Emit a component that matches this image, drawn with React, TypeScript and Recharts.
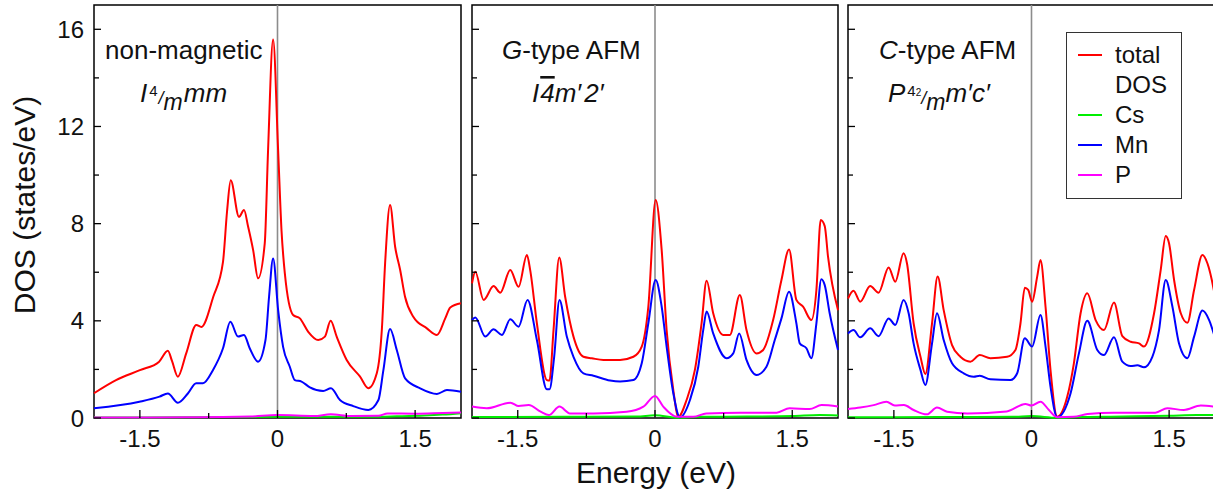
import React from 'react';
import { LineChart, Line, XAxis, YAxis, ReferenceLine, ReferenceArea, Legend } from 'recharts';

const FONT = '"Liberation Sans", Arial, Helvetica, sans-serif';

// ---------- axis ticks ----------
const energyTicks = [-1.5, -0.75, 0, 0.75, 1.5];
const dosTicks = [0, 2, 4, 6, 8, 10, 12, 14, 16];
const energyDomain = [-2, 2];
const dosDomain = [0, 17];

// ---------- series ----------
const seriesNames = ['total DOS', 'Cs', 'Mn', 'P'];
const seriesColors = ['#ff0000', '#00ee00', '#0000ff', '#ff00ff'];

// Panel 1: non-magnetic  [energy (eV), DOS (states/eV)]
const nmTotal = [[-2, 1.02], [-1.76, 1.56], [-1.5, 1.97], [-1.29, 2.32], [-1.195, 2.77], [-1.15, 2.35], [-1.086, 1.7], [-0.995, 2.66], [-0.885, 3.83], [-0.83, 3.75], [-0.7, 4.99], [-0.594, 6.43], [-0.55, 8.5], [-0.51, 9.79], [-0.42, 8.28], [-0.365, 8.56], [-0.32, 7.87], [-0.265, 6.9], [-0.212, 5.75], [-0.139, 7.19], [-0.103, 11.0], [-0.048, 15.58], [0.007, 11.0], [0.044, 7.7], [0.08, 5.95], [0.17, 4.24], [0.244, 4.1], [0.335, 3.55], [0.444, 3.21], [0.517, 3.35], [0.579, 4.0], [0.645, 3.35], [0.754, 2.39], [0.9, 1.7], [0.99, 1.22], [1.082, 1.84], [1.137, 3.62], [1.173, 6.38], [1.227, 8.77], [1.282, 7.05], [1.337, 6.09], [1.39, 4.99], [1.48, 4.17], [1.628, 3.69], [1.738, 3.42], [1.828, 4.1], [1.883, 4.55], [2, 4.72]];
const nmCs = [[-2, 0.02], [-1, 0.03], [0, 0.05], [1, 0.05], [1.3, 0.07], [1.6, 0.1], [1.8, 0.14], [2, 0.2]];
const nmMn = [[-2, 0.4], [-1.505, 0.67], [-1.286, 0.88], [-1.195, 1.01], [-1.086, 0.63], [-0.977, 1.01], [-0.886, 1.43], [-0.813, 1.43], [-0.704, 1.97], [-0.594, 2.87], [-0.514, 3.96], [-0.43, 3.35], [-0.365, 3.42], [-0.303, 2.87], [-0.212, 2.32], [-0.131, 3.21], [-0.092, 4.99], [-0.048, 6.57], [0.007, 4.44], [0.061, 2.93], [0.134, 2.11], [0.189, 1.56], [0.262, 1.5], [0.353, 1.26], [0.498, 1.11], [0.583, 1.22], [0.681, 0.74], [0.826, 0.49], [0.99, 0.33], [1.1, 0.74], [1.154, 1.97], [1.227, 3.66], [1.3, 2.8], [1.391, 1.63], [1.555, 1.22], [1.738, 0.99], [1.847, 1.15], [2, 1.08]];
const nmP = [[-2, 0.02], [-1, 0.03], [-0.3, 0.06], [0, 0.12], [0.4, 0.08], [0.58, 0.15], [0.8, 0.08], [1.1, 0.09], [1.2, 0.19], [1.5, 0.18], [1.8, 0.21], [2, 0.23]];

// Panel 2: G-type AFM
const gTotal = [[-2, 5.54], [-1.964, 6.02], [-1.873, 4.86], [-1.764, 5.43], [-1.691, 5.16], [-1.582, 6.09], [-1.491, 5.4], [-1.4, 6.71], [-1.364, 6.09], [-1.291, 3.9], [-1.182, 1.56], [-1.153, 1.54], [-1.109, 3.62], [-1.047, 6.61], [-0.982, 4.99], [-0.891, 3.35], [-0.782, 2.52], [-0.691, 2.46], [-0.564, 2.39], [-0.382, 2.39], [-0.236, 2.52], [-0.145, 2.94], [-0.073, 4.58], [0.007, 8.97], [0.073, 6.91], [0.127, 3.62], [0.2, 1.15], [0.255, 0.05], [0.345, 0.74], [0.436, 1.98], [0.509, 3.9], [0.564, 5.65], [0.636, 4.31], [0.745, 3.42], [0.818, 3.42], [0.927, 5.06], [1.0, 3.62], [1.109, 2.66], [1.182, 2.8], [1.291, 4.03], [1.382, 5.68], [1.465, 6.94], [1.545, 4.86], [1.618, 4.58], [1.709, 4.03], [1.764, 5.27], [1.811, 8.15], [1.855, 7.9], [1.891, 6.64], [2, 4.44]];
const gCs = [[-2, 0.04], [-1, 0.05], [-0.2, 0.06], [0, 0.11], [0.25, 0.01], [0.5, 0.05], [1, 0.06], [1.5, 0.08], [1.8, 0.12], [2, 0.1]];
const gMn = [[-2, 4.03], [-1.964, 4.14], [-1.855, 3.35], [-1.764, 3.65], [-1.673, 3.42], [-1.582, 4.06], [-1.491, 3.76], [-1.393, 4.86], [-1.291, 3.21], [-1.182, 1.18], [-1.153, 1.18], [-1.102, 2.52], [-1.044, 4.86], [-0.964, 3.35], [-0.891, 2.52], [-0.782, 1.84], [-0.673, 1.74], [-0.491, 1.54], [-0.382, 1.5], [-0.236, 1.56], [-0.145, 2.25], [-0.073, 3.9], [0.007, 5.68], [0.073, 4.58], [0.127, 2.94], [0.2, 1.02], [0.273, 0.03], [0.382, 0.74], [0.473, 2.11], [0.527, 3.62], [0.564, 4.38], [0.636, 3.48], [0.782, 2.46], [0.855, 2.66], [0.92, 3.48], [1.0, 2.39], [1.109, 1.77], [1.218, 2.11], [1.309, 3.21], [1.382, 4.1], [1.465, 5.2], [1.545, 3.9], [1.582, 3.07], [1.655, 2.87], [1.709, 2.46], [1.764, 3.9], [1.818, 5.71], [1.855, 5.47], [1.909, 4.31], [2, 2.8]];
const gP = [[-2, 0.47], [-1.84, 0.4], [-1.58, 0.63], [-1.49, 0.49], [-1.38, 0.53], [-1.25, 0.26], [-1.16, 0.12], [-1.044, 0.47], [-0.93, 0.19], [-0.67, 0.19], [-0.31, 0.26], [-0.127, 0.47], [0, 0.91], [0.09, 0.47], [0.24, 0.05], [0.42, 0.05], [0.56, 0.19], [0.93, 0.22], [1.33, 0.22], [1.47, 0.4], [1.69, 0.37], [1.82, 0.53], [2, 0.47]];

// Panel 3: C-type AFM
const cTotal = [[-2, 4.92], [-1.94, 5.24], [-1.867, 4.79], [-1.758, 5.43], [-1.667, 5.16], [-1.557, 6.2], [-1.485, 5.61], [-1.394, 6.78], [-1.357, 6.36], [-1.285, 3.9], [-1.21, 2.52], [-1.157, 1.81], [-1.084, 3.9], [-1.023, 5.82], [-0.957, 4.44], [-0.866, 3.0], [-0.775, 2.52], [-0.666, 2.32], [-0.564, 2.59], [-0.448, 2.46], [-0.266, 2.52], [-0.175, 2.8], [-0.12, 3.9], [-0.073, 5.36], [-0.036, 5.27], [0.007, 4.79], [0.062, 5.82], [0.098, 6.5], [0.153, 4.58], [0.207, 1.98], [0.28, 0.05], [0.39, 0.88], [0.462, 2.25], [0.535, 4.31], [0.608, 5.13], [0.699, 4.03], [0.79, 3.62], [0.899, 4.75], [0.99, 3.37], [1.081, 3.14], [1.172, 3.07], [1.226, 2.94], [1.336, 4.31], [1.408, 6.09], [1.463, 7.49], [1.499, 7.19], [1.554, 5.68], [1.627, 4.31], [1.699, 3.92], [1.772, 5.27], [1.863, 6.71], [1.918, 6.36], [1.987, 5.27], [2, 5.0]];
const cCs = [[-2, 0.03], [-1, 0.04], [-0.2, 0.05], [0, 0.08], [0.28, 0.01], [0.5, 0.04], [1, 0.06], [1.5, 0.09], [1.8, 0.12], [2, 0.12]];
const cMn = [[-2, 3.48], [-1.94, 3.62], [-1.867, 3.32], [-1.758, 3.69], [-1.667, 3.37], [-1.557, 4.1], [-1.485, 3.83], [-1.394, 4.86], [-1.339, 4.31], [-1.285, 3.07], [-1.21, 1.98], [-1.157, 1.36], [-1.084, 3.07], [-1.03, 4.31], [-0.957, 3.21], [-0.866, 2.25], [-0.739, 1.84], [-0.63, 1.7], [-0.564, 1.74], [-0.448, 1.59], [-0.229, 1.56], [-0.156, 1.84], [-0.073, 3.28], [0.007, 2.94], [0.098, 4.24], [0.153, 2.94], [0.207, 1.29], [0.28, 0.03], [0.426, 1.02], [0.517, 2.66], [0.608, 4.0], [0.717, 2.8], [0.79, 2.59], [0.899, 3.32], [0.99, 2.32], [1.081, 2.14], [1.154, 2.17], [1.226, 2.09], [1.317, 2.52], [1.39, 3.62], [1.463, 5.68], [1.536, 4.58], [1.608, 3.07], [1.699, 2.46], [1.772, 3.35], [1.863, 4.42], [1.936, 4.03], [2, 3.3]];
const cP = [[-2, 0.37], [-1.867, 0.43], [-1.72, 0.53], [-1.58, 0.67], [-1.49, 0.51], [-1.39, 0.53], [-1.285, 0.33], [-1.14, 0.15], [-1.03, 0.43], [-0.92, 0.26], [-0.7, 0.19], [-0.27, 0.27], [-0.066, 0.58], [0.0, 0.51], [0.098, 0.67], [0.19, 0.33], [0.28, 0.03], [0.46, 0.05], [0.61, 0.16], [0.9, 0.22], [1.35, 0.22], [1.48, 0.4], [1.66, 0.33], [1.845, 0.51], [2, 0.47]];

const toPoints = (arr: number[][]) => arr.map(([e, dos]) => ({ e, dos }));

const panels = [
  { left: 0, yAxisWidth: 94, plotWidth: 367, showYLabels: true, legend: false, series: [nmTotal, nmCs, nmMn, nmP] },
  { left: 466, yAxisWidth: 6, plotWidth: 366, showYLabels: false, legend: false, series: [gTotal, gCs, gMn, gP] },
  { left: 842, yAxisWidth: 6, plotWidth: 367, showYLabels: false, legend: true, series: [cTotal, cCs, cMn, cP] },
];

const XTick = (props: any) => {
  const { x, y, payload } = props;
  const v = payload.value;
  const major = Math.abs(v) < 1e-9 || Math.abs(Math.abs(v) - 1.5) < 1e-9;
  return (
    <g>
      <line x1={x} x2={x} y1={y} y2={y - (major ? 8 : 5)} stroke="#000" strokeWidth={1.3} />
      {major && (
        <text x={x} y={y + 29} textAnchor="middle" fontSize={24} fontFamily={FONT} fill="#111">
          {String(v)}
        </text>
      )}
    </g>
  );
};

const makeYTick = (showLabel: boolean) => (props: any) => {
  const { x, y, payload } = props;
  const v = payload.value;
  const major = v % 4 === 0;
  return (
    <g>
      <line x1={x} x2={x + (major ? 7 : 5)} y1={y} y2={y} stroke="#000" strokeWidth={1.3} />
      {showLabel && major && (
        <text x={x - 10} y={y + 8.5} textAnchor="end" fontSize={24} fontFamily={FONT} fill="#111">
          {String(v)}
        </text>
      )}
    </g>
  );
};

const renderLegend = (props: any) => {
  const payload = [...(props.payload || [])].sort(
    (a: any, b: any) => seriesNames.indexOf(a.value) - seriesNames.indexOf(b.value)
  );
  return (
    <div
      style={{
        boxSizing: 'border-box', width: 116, height: 167, border: '1.3px solid #333', background: '#fff',
        paddingTop: 7, fontFamily: FONT, fontSize: 24, lineHeight: '30px', color: '#111',
      }}
    >
      {payload.map((entry: any) => (
        <div key={entry.value} style={{ display: 'flex', alignItems: 'flex-start' }}>
          <div style={{ width: 24, height: 2, background: entry.color, marginLeft: 11, marginTop: 14, marginRight: 13, flex: 'none' }} />
          <div style={{ width: 66 }}>{entry.value}</div>
        </div>
      ))}
    </div>
  );
};

function Panel(p: any) {
  const width = p.yAxisWidth + p.plotWidth + 4;
  return (
    <div style={{ position: 'absolute', left: p.left, top: 0 }}>
      <LineChart width={width} height={495} margin={{ top: 5, right: 4, bottom: 0, left: 0 }}>
        <XAxis
          type="number" dataKey="e" domain={energyDomain} ticks={energyTicks} interval={0}
          tickSize={0} tickMargin={0} axisLine={false} tickLine={false} tick={XTick} height={77}
        />
        <YAxis
          type="number" domain={dosDomain} ticks={dosTicks} interval={0} width={p.yAxisWidth}
          tickSize={0} tickMargin={0} axisLine={false} tickLine={false} tick={makeYTick(p.showYLabels)}
        />
        <ReferenceArea x1={-2} x2={2} y1={0} y2={17} fill="none" fillOpacity={0} stroke="#000" strokeWidth={1.5} />
        <ReferenceLine x={0} stroke="#8c8c8c" strokeWidth={1.6} />
        {p.series.map((s: number[][], i: number) => (
          <Line
            key={seriesNames[i]} data={toPoints(s)} dataKey="dos" name={seriesNames[i]}
            type="monotone" stroke={seriesColors[i]} strokeWidth={2} dot={false} activeDot={false}
            isAnimationActive={false}
          />
        ))}
        {p.legend && (
          <Legend
            layout="vertical" align="center" verticalAlign="middle"
            wrapperStyle={{ left: 224, top: 32, width: 116, height: 167 }}
            content={renderLegend}
          />
        )}
      </LineChart>
    </div>
  );
}

export default function App() {
  return (
    <div style={{ position: 'absolute', left: 0, top: 0, width: 1213, height: 495, overflow: 'hidden', background: '#fff', fontFamily: FONT }}>
      {panels.map((p, i) => <Panel key={i} {...p} />)}
      <svg width={1213} height={495} style={{ position: 'absolute', left: 0, top: 0, pointerEvents: 'none' }} fontFamily={FONT} fill="#111">
        <text transform="translate(35,205) rotate(-90)" textAnchor="middle" fontSize={30}>DOS (states/eV)</text>
        <text x={656} y={483} textAnchor="middle" fontSize={30}>Energy (eV)</text>

        <text x={105} y={59} fontSize={26}>non-magnetic</text>
        <text x={140} y={102} fontSize={26} fontStyle="italic">
          I<tspan fontSize={15} dy={-6} fontStyle="normal" dx={2}>4</tspan>
          <tspan fontSize={18} dy={8} dx={1}>/</tspan>
          <tspan fontSize={23} dy={6} dx={0}>m</tspan>
          <tspan fontSize={26} dy={-8} dx={1}>mm</tspan>
        </text>

        <text x={502} y={59} fontSize={26}><tspan fontStyle="italic">G</tspan>-type AFM</text>
        <text x={532} y={102} fontSize={26} fontStyle="italic">
          I<tspan dx={1} style={{ textDecoration: 'overline' }}>4</tspan>m′<tspan dx={3}>2′</tspan>
        </text>

        <text x={879} y={59} fontSize={26}><tspan fontStyle="italic">C</tspan>-type AFM</text>
        <text x={888} y={102} fontSize={26} fontStyle="italic">
          P<tspan fontSize={15} dy={-6} fontStyle="normal" dx={2}>4</tspan>
          <tspan fontSize={10} fontStyle="normal" dy={0}>2</tspan>
          <tspan fontSize={18} dy={8}>/</tspan>
          <tspan fontSize={23} dy={6}>m</tspan>
          <tspan fontSize={26} dy={-8}>m′c′</tspan>
        </text>
      </svg>
    </div>
  );
}
